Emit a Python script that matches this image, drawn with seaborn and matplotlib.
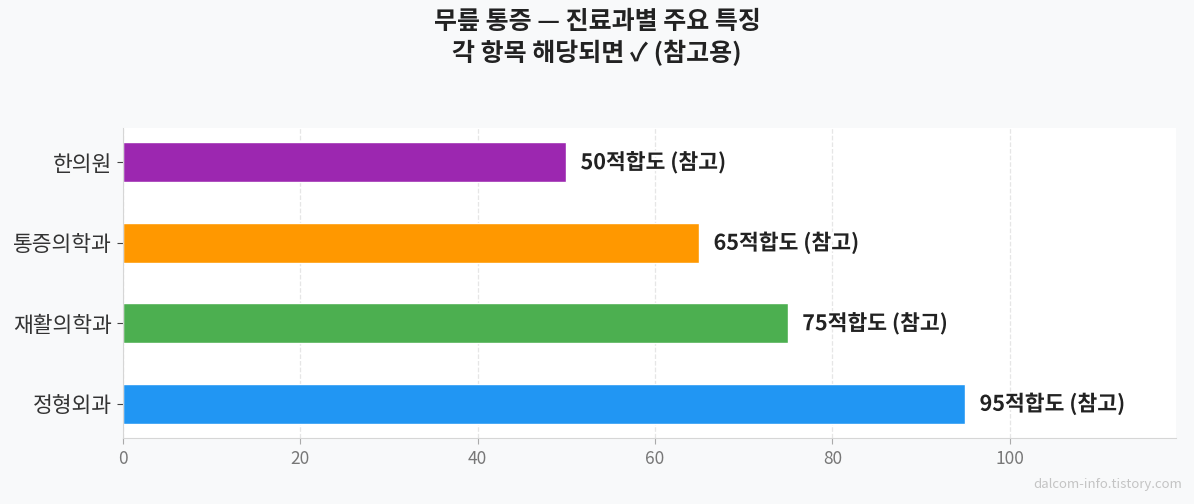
import matplotlib
matplotlib.use("Agg")
import matplotlib.pyplot as plt
import matplotlib.patheffects as pe
import pandas as pd
import seaborn as sns

# 진료과별 적합도 (참고용)
departments = ["한의원", "통증의학과", "재활의학과", "정형외과"]
scores = [50, 65, 75, 95]
colors = ["#9c27b0", "#ff9800", "#4caf50", "#2196f3"]
xticks = [0, 20, 40, 60, 80, 100]

df = pd.DataFrame({"dept": departments, "score": scores})

sns.set_style("white")
plt.rcParams["font.family"] = ["Noto Sans CJK KR", "DejaVu Sans"]

fig = plt.figure(figsize=(11.94, 5.04), dpi=100)
fig.patch.set_facecolor("#f8f9fa")
ax = fig.add_axes([123 / 1194, 1 - 438 / 504, (1176 - 123) / 1194, (438 - 128) / 504])
ax.set_facecolor("white")

sns.barplot(data=df, x="score", y="dept", hue="dept", palette=colors,
            width=0.5, legend=False, ax=ax, saturation=1)

for i, v in enumerate(scores):
    ax.text(v + 1.6, i, f"{v}적합도 (참고)", va="center", ha="left",
            fontsize=15.5, fontweight="bold", color="#222222",
            path_effects=[pe.withStroke(linewidth=3, foreground="white")])

ax.set_xlim(0, max(scores) * 1.25)
ax.set_ylim(len(scores) - 1 + 0.425, -0.425)
ax.set_xticks(xticks)
ax.set_xlabel("")
ax.set_ylabel("")
ax.grid(axis="x", linestyle="--", color="#e6e6e6", linewidth=0.9)
ax.set_axisbelow(True)
ax.tick_params(axis="x", colors="#777777", labelsize=12.5, length=4,
               color="#aaaaaa", bottom=True, pad=5)
ax.tick_params(axis="y", labelsize=15.5, labelcolor="#333333", length=4,
               color="#444444", left=True, pad=4)
sns.despine(ax=ax)
for s in ["left", "bottom"]:
    ax.spines[s].set_color("#d6d6d6")

fig.suptitle("무릎 통증 — 진료과별 주요 특징\n각 항목 해당되면 ✓ (참고용)",
             fontsize=18, fontweight="bold", color="#222222", y=0.98,
             linespacing=1.25)
fig.text(0.99, 0.025, "dalcom-info.tistory.com", ha="right", va="bottom",
         fontsize=9.5, color="#c4c4c4")

fig.savefig("out.png", dpi=100, facecolor=fig.get_facecolor())
